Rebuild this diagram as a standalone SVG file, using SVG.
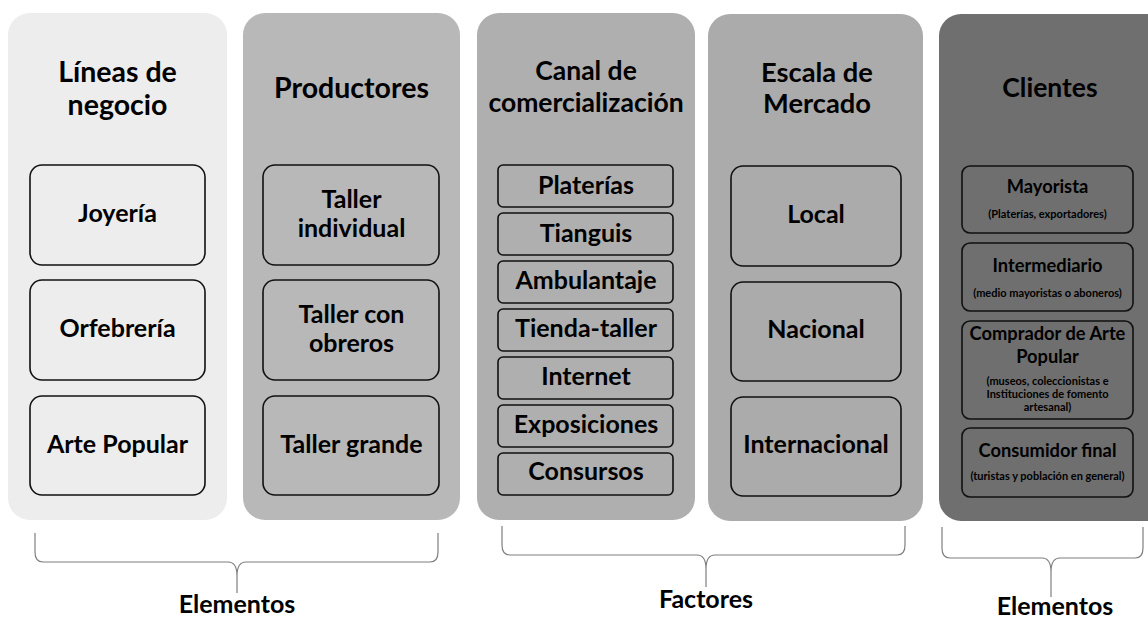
<svg xmlns="http://www.w3.org/2000/svg" width="1148" height="618" viewBox="0 0 1148 618">
<style>
text{font-family:Lato,"Liberation Sans",sans-serif;font-weight:bold;fill:#000;text-anchor:middle}
.t{font-size:28.5px}
.i{font-size:25px}
.s{font-size:11px}
.m{font-size:18.3px}
.box{stroke:#111;stroke-width:1.6}
.brace{fill:none;stroke:#7f7f7f;stroke-width:1.2}
</style>
<rect width="1148" height="618" fill="#fff"/>
<g id="lineas">
<rect x="8" y="13" width="219" height="507" rx="22" fill="#ededed"/>
<text class="t" x="117.5" y="82">Líneas de</text>
<text class="t" x="117.5" y="115">negocio</text>
<rect class="box" x="30" y="165" width="175" height="100" rx="12" fill="#ededed"/>
<text class="i" x="117.5" y="222">Joyería</text>
<rect class="box" x="30" y="280" width="175" height="100" rx="12" fill="#ededed"/>
<text class="i" x="117.5" y="337">Orfebrería</text>
<rect class="box" x="30" y="396" width="175" height="99" rx="12" fill="#ededed"/>
<text class="i" x="117.5" y="453">Arte Popular</text>
</g>
<g id="productores">
<rect x="243" y="13" width="217" height="507" rx="22" fill="#b8b8b8"/>
<text class="t" x="351.5" y="98">Productores</text>
<rect class="box" x="263" y="165" width="176" height="100" rx="12" fill="#b8b8b8"/>
<text class="i" x="351.5" y="208">Taller</text>
<text class="i" x="351.5" y="237">individual</text>
<rect class="box" x="263" y="280" width="176" height="100" rx="12" fill="#b8b8b8"/>
<text class="i" x="351.5" y="323">Taller con</text>
<text class="i" x="351.5" y="352">obreros</text>
<rect class="box" x="263" y="396" width="176" height="99" rx="12" fill="#b8b8b8"/>
<text class="i" x="351.5" y="453">Taller grande</text>
</g>
<g id="canal">
<rect x="477" y="13" width="218" height="507" rx="22" fill="#afafaf"/>
<text class="t" x="586" y="80" style="font-size:26.5px">Canal de</text>
<text class="t" x="586" y="112" style="font-size:26.5px">comercialización</text>
<rect class="box" x="498" y="165" width="175" height="42" rx="5" fill="#afafaf"/>
<text class="i" x="586" y="194">Platerías</text>
<rect class="box" x="498" y="213" width="175" height="42" rx="5" fill="#afafaf"/>
<text class="i" x="586" y="242">Tianguis</text>
<rect class="box" x="498" y="261" width="175" height="42" rx="5" fill="#afafaf"/>
<text class="i" x="586" y="289">Ambulantaje</text>
<rect class="box" x="498" y="309" width="175" height="42" rx="5" fill="#afafaf"/>
<text class="i" x="586" y="337">Tienda-taller</text>
<rect class="box" x="498" y="357" width="175" height="42" rx="5" fill="#afafaf"/>
<text class="i" x="586" y="385">Internet</text>
<rect class="box" x="498" y="405" width="175" height="42" rx="5" fill="#afafaf"/>
<text class="i" x="586" y="433">Exposiciones</text>
<rect class="box" x="498" y="453" width="175" height="42" rx="5" fill="#afafaf"/>
<text class="i" x="586" y="480">Consursos</text>
</g>
<g id="escala">
<rect x="708" y="14" width="215" height="507" rx="22" fill="#ababab"/>
<text class="t" x="817" y="82" style="font-size:27.3px">Escala de</text>
<text class="t" x="817" y="113" style="font-size:27.3px">Mercado</text>
<rect class="box" x="731" y="166" width="170" height="100" rx="12" fill="#ababab"/>
<text class="i" x="816" y="223">Local</text>
<rect class="box" x="731" y="282" width="170" height="99" rx="12" fill="#ababab"/>
<text class="i" x="816" y="338">Nacional</text>
<rect class="box" x="731" y="397" width="170" height="99" rx="12" fill="#ababab"/>
<text class="i" x="816" y="453">Internacional</text>
</g>
<g id="clientes">
<rect x="939" y="14" width="240" height="507" rx="22" fill="#6f6f6f"/>
<text class="t" x="1050" y="97" style="font-size:26.5px">Clientes</text>
<rect class="box" x="962" y="166" width="171" height="67" rx="8" fill="#6f6f6f" stroke-width="2"/>
<text class="m" x="1047.5" y="193">Mayorista</text>
<text class="s" x="1047.5" y="218">(Platerías, exportadores)</text>
<rect class="box" x="962" y="243" width="171" height="68" rx="8" fill="#6f6f6f" stroke-width="2"/>
<text class="m" x="1047.5" y="272">Intermediario</text>
<text class="s" x="1047.5" y="297">(medio mayoristas o aboneros)</text>
<rect class="box" x="962" y="321" width="171" height="98" rx="8" fill="#6f6f6f" stroke-width="2"/>
<text class="m" x="1047.5" y="340">Comprador de Arte</text>
<text class="m" x="1047.5" y="363">Popular</text>
<text class="s" x="1047.5" y="385">(museos, coleccionistas e</text>
<text class="s" x="1047.5" y="398">Instituciones de fomento</text>
<text class="s" x="1047.5" y="411">artesanal)</text>
<rect class="box" x="962" y="428" width="171" height="69" rx="8" fill="#6f6f6f" stroke-width="2"/>
<text class="m" x="1047.5" y="457">Consumidor final</text>
<text class="s" x="1047.5" y="480">(turistas y población en general)</text>
</g>
<g id="connectors">
<path class="brace" d="M35,533 L35,552 Q35,562 43,562 L228,562 Q237,562 237,576 L237,593 M237,576 Q237,562 246,562 L430,562 Q438,562 438,552 L438,533"/>
<path class="brace" d="M502,526 L502,545 Q502,555 510,555 L697,555 Q706,555 706,569 L706,587 M706,569 Q706,555 715,555 L897,555 Q905,555 905,545 L905,526"/>
<path class="brace" d="M942,527 L942,548 Q942,558 950,558 L1042,558 Q1051,558 1051,572 L1051,597 M1051,572 Q1051,558 1060,558 L1135,558 Q1143,558 1143,548 L1143,527"/>
</g>
<g id="labels">
<text class="i" x="237" y="613">Elementos</text>
<text class="i" x="706" y="608">Factores</text>
<text class="i" x="1055" y="615">Elementos</text>
</g>
</svg>
